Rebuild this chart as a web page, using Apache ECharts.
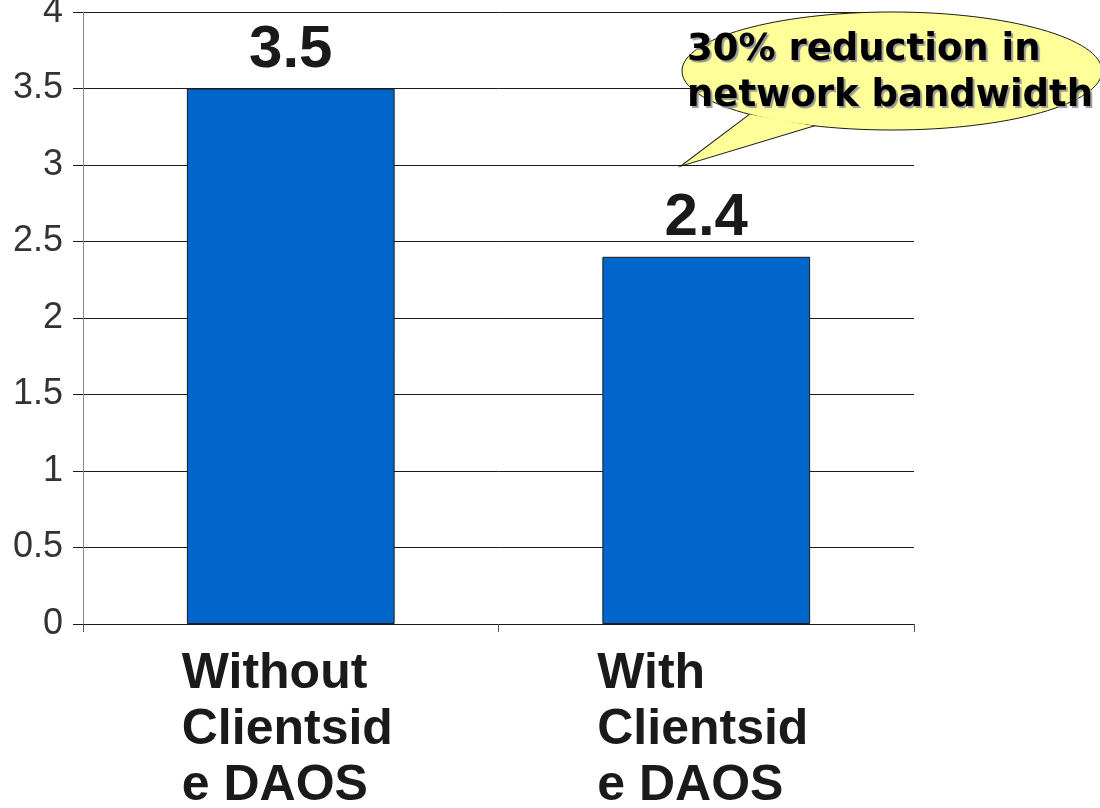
<!DOCTYPE html>
<html>
<head>
<meta charset="utf-8">
<script src="https://cdn.jsdelivr.net/npm/echarts@6/dist/echarts.min.js"></script>
<style>html,body{margin:0;padding:0;background:#fff}#c{width:1100px;height:808px}</style>
</head>
<body>
<div id="c"></div>
<script>
const categories = ['Without Clientside DAOS', 'With Clientside DAOS'];
const categoryLabels = ['Without\nClientsid\ne DAOS', 'With\nClientsid\ne DAOS'];
const values = [3.5, 2.4];
const calloutLines = ['30% reduction in', 'network bandwidth'];

const tail = [[750, 114.5], [813, 125.7], [683, 165]];

const chart = echarts.init(document.getElementById('c'));
chart.setOption({
  animation: false,
  backgroundColor: '#ffffff',
  grid: { left: 83, right: 186, top: 12, bottom: 184, outerBoundsMode: 'none', containLabel: false },
  xAxis: {
    type: 'category',
    data: categories,
    boundaryGap: true,
    axisLine: { lineStyle: { color: '#1a1a1a', width: 1 } },
    axisTick: { show: true, length: 8, lineStyle: { color: '#555' } },
    axisLabel: {
      margin: 22,
      formatter: (v, i) => categoryLabels[i].split('\n').map(s => '{a|' + s + '}').join('\n'),
      rich: {
        a: {
          width: 218, align: 'left',
          fontFamily: 'Liberation Sans', fontWeight: 'bold', fontSize: 50,
          lineHeight: 56, color: '#1a1a1a'
        }
      }
    }
  },
  yAxis: {
    type: 'value',
    min: 0, max: 4, interval: 0.5,
    axisLine: { show: true, lineStyle: { color: '#888', width: 1 } },
    axisTick: { show: true, length: 10, lineStyle: { color: '#1a1a1a' } },
    splitLine: { lineStyle: { color: '#1a1a1a', width: 1 } },
    axisLabel: {
      margin: 20,
      fontFamily: 'Liberation Sans', fontSize: 36, color: '#333'
    }
  },
  series: [{
    type: 'bar',
    data: values,
    barWidth: '50%',
    itemStyle: { color: '#0066cc', borderColor: '#1a1a1a', borderWidth: 1 },
    label: {
      show: true, position: 'top', distance: 8,
      fontFamily: 'Liberation Sans', fontWeight: 'bold', fontSize: 60,
      color: '#1a1a1a'
    }
  }],
  graphic: [
    {
      type: 'polygon',
      shape: { points: tail },
      style: { fill: '#ffff99', stroke: '#1a1a1a', lineWidth: 2 },
      z: 100
    },
    {
      type: 'ellipse',
      shape: { cx: 892, cy: 71, rx: 210, ry: 59 },
      style: { fill: '#ffff99', stroke: '#1a1a1a', lineWidth: 1 },
      z: 101
    },
    {
      type: 'polygon',
      shape: { points: tail },
      style: { fill: '#ffff99' },
      z: 102
    },
    {
      type: 'text',
      left: 687, top: 27,
      style: {
        text: calloutLines.join('\n'),
        fontFamily: 'DejaVu Sans', fontWeight: 'bold', fontSize: 37,
        lineHeight: 46, fill: '#000',
        textShadowColor: '#999', textShadowOffsetX: 2, textShadowOffsetY: 2, textShadowBlur: 1
      },
      z: 103
    }
  ]
});
</script>
</body>
</html>
